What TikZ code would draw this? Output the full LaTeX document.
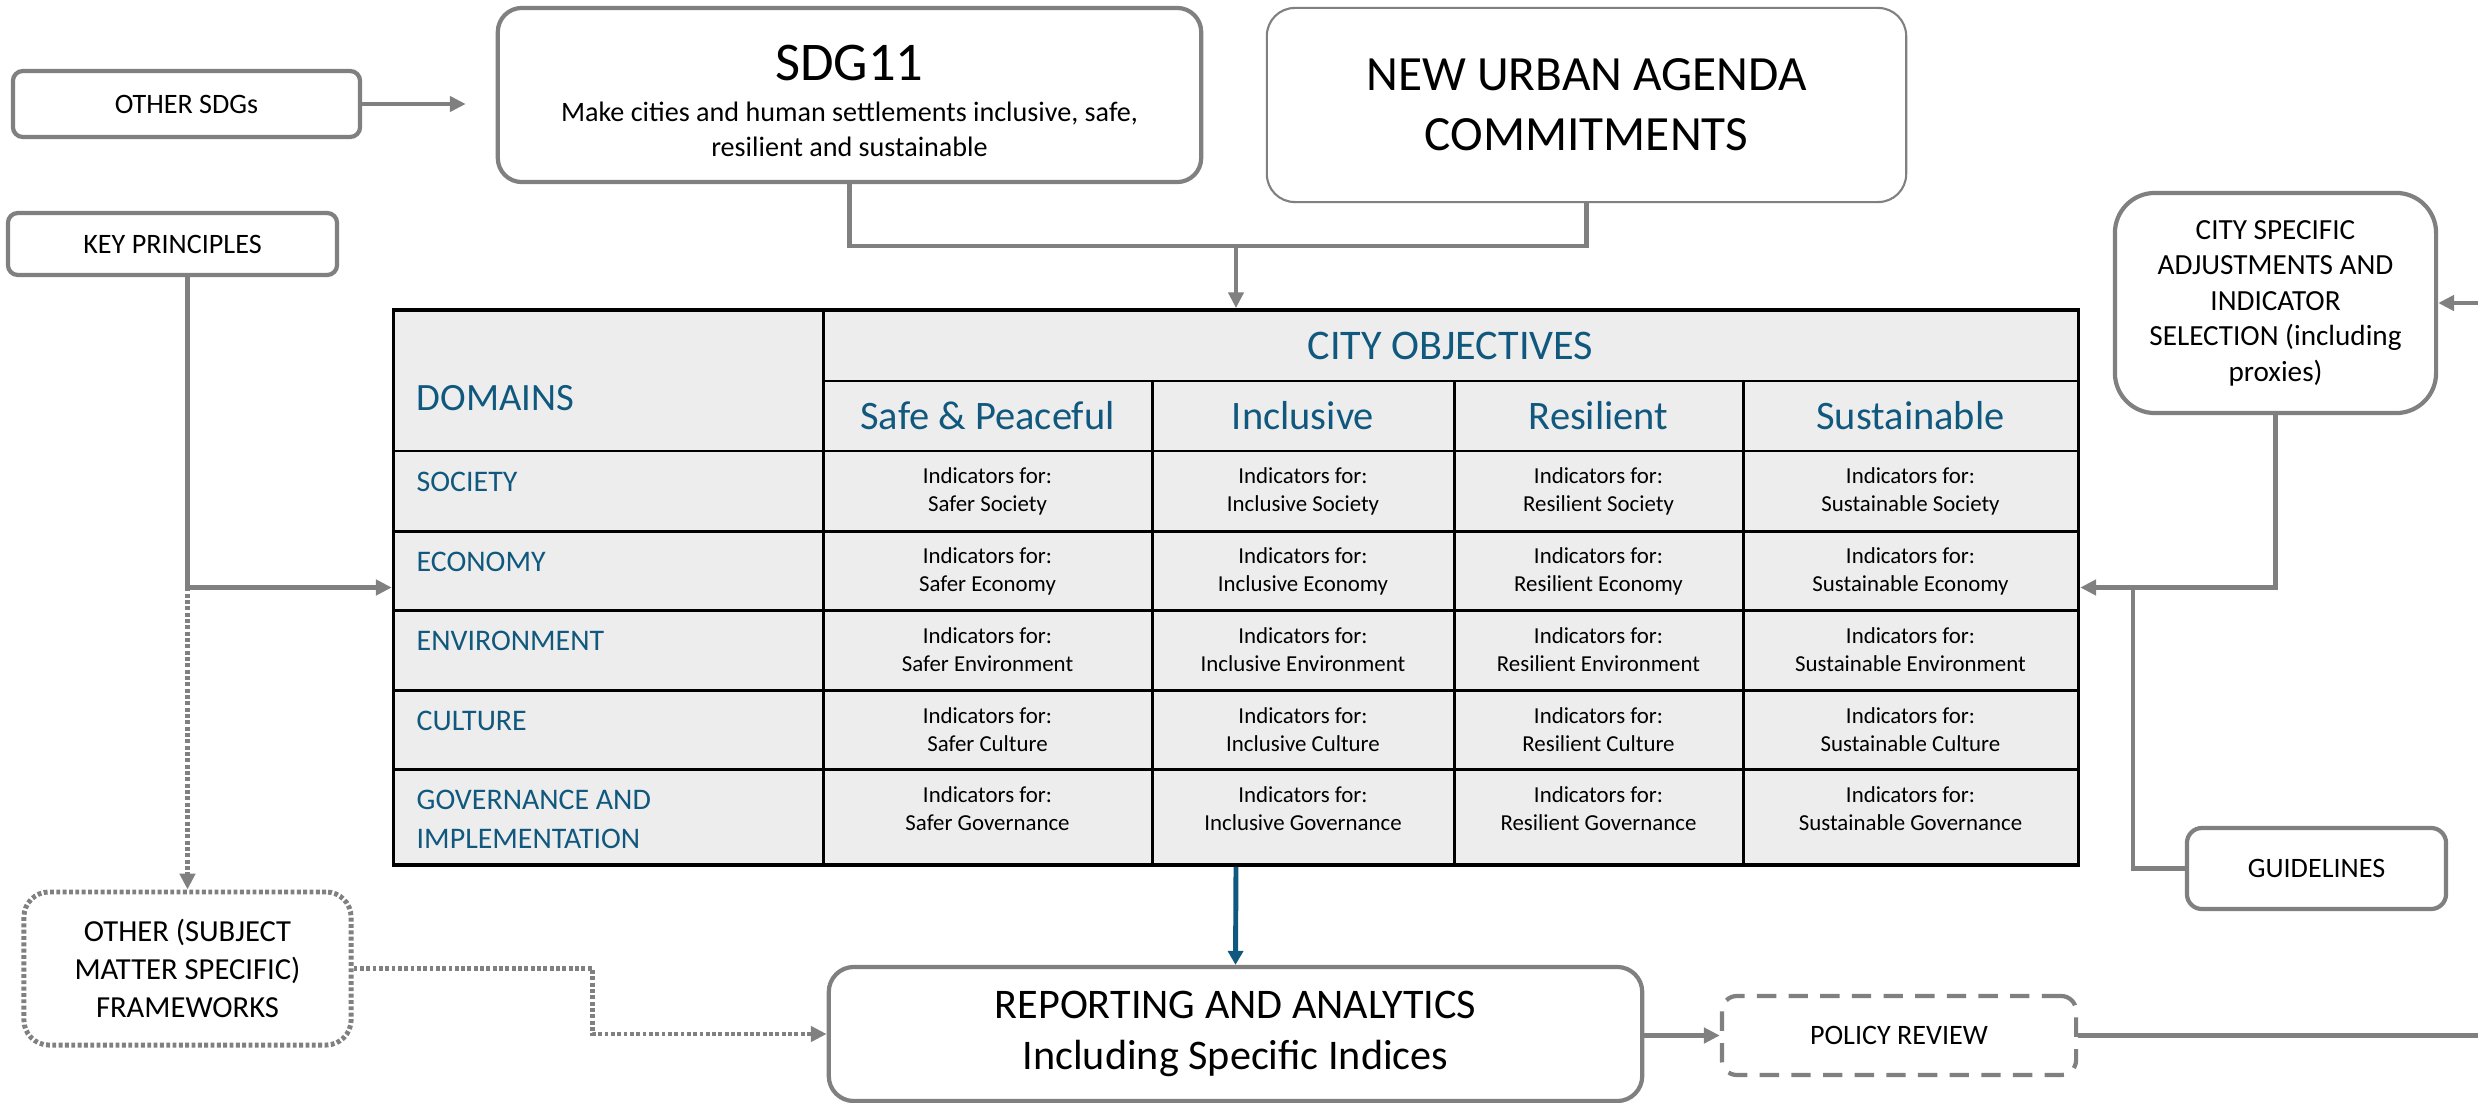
\documentclass[tikz,border=0pt]{standalone}
\usepackage{fontspec}
\setmainfont{Carlito}
\usepackage{tikz}
\usetikzlibrary{arrows.meta, shapes}

\definecolor{boxgray}{RGB}{128,128,128}
\definecolor{domblue}{RGB}{16,88,125}
\definecolor{cellgray}{RGB}{237,237,237}
\newcommand{\fsz}[2]{\fontsize{#1}{#2}\selectfont}

\begin{document}
\begin{tikzpicture}[x=0.01cm, y=-0.01cm]
\useasboundingbox (0,0) rectangle (2478,1103);

% boxes around the table
\begin{scope}[every node/.style={rectangle, draw=boxgray, line width=1.2pt, align=center, inner sep=0pt}]
  \node[rounded corners=0.1cm, minimum width=3.47cm, minimum height=0.66cm, font={\fsz{8}{10}}] (osdg) at (186.5,104) {OTHER SDGs};
  \node[rounded corners=0.24cm, minimum width=7.03cm, minimum height=1.74cm, font={\fsz{8}{9.7}}] (sdg) at (849.5,95)
    {{\fsz{15.5}{19}\rule{0pt}{13.4pt}SDG11}\\[2pt]Make cities and human settlements inclusive, safe,\\resilient and sustainable};
  \node[rounded corners=0.28cm, line width=0.6pt, minimum width=6.39cm, minimum height=1.94cm, font={\fsz{14}{17}}] (nua) at (1586.5,105)
    {NEW URBAN AGENDA\\COMMITMENTS};
  \node[rounded corners=0.1cm, minimum width=3.29cm, minimum height=0.62cm, font={\fsz{8}{10}}] (kp) at (172.5,244) {KEY PRINCIPLES};
  \node[rounded corners=0.4cm, minimum width=3.21cm, minimum height=2.2cm, font={\fsz{8.3}{10.1}}] (csa) at (2275.5,303)
    {CITY SPECIFIC\\ADJUSTMENTS AND\\INDICATOR\\SELECTION (including\\proxies)};
  \node[rounded corners=0.15cm, minimum width=2.59cm, minimum height=0.81cm, font={\fsz{8}{10}}] (guide) at (2316.5,868.5) {GUIDELINES};
  \node[rounded corners=0.25cm, minimum width=8.13cm, minimum height=1.34cm, font={\fsz{12}{14.5}}] (rep) at (1235.5,1034)
    {REPORTING AND ANALYTICS\\Including Specific Indices};
  \node[rounded corners=0.15cm, dash pattern=on 5.5pt off 3.5pt, minimum width=3.54cm, minimum height=0.79cm, font={\fsz{8}{10}}] (pol) at (1899,1035.5) {POLICY REVIEW};
  \node[rounded corners=0.25cm, line width=1.4pt, dash pattern=on 1.1pt off 0.7pt, minimum width=3.27cm, minimum height=1.53cm, font={\fsz{8.7}{10.8}}] (other) at (187.5,968.5)
    {OTHER (SUBJECT\\MATTER SPECIFIC)\\FRAMEWORKS};
\end{scope}

% the table
\node[draw=black, line width=1pt, fill=cellgray, minimum width=16.84cm, minimum height=5.55cm, inner sep=0pt] (tbl) at (1236,587.5) {};
\begin{scope}[black, line width=0.85pt]
  \draw (823,310) -- (823,865);
  \draw (823,381) -- (2078,381);
  \foreach \gx in {1152,1454,1743}
    \draw (\gx,381) -- (\gx,865);
  \foreach \gy in {451,531,610,690,769}
    \draw (394,\gy) -- (2078,\gy);
\end{scope}

\begin{scope}[every node/.style={text=domblue, inner sep=0pt}]
  \node[font={\fsz{12}{14}}] (cobj) at (1450.5,345.5) {CITY OBJECTIVES};
  \node[font={\fsz{11}{13}}, anchor=north west] (dom) at (416,384.5) {DOMAINS};
  \foreach \hd/\cx [count=\c] in {Safe \& Peaceful/987.5, Inclusive/1303, Resilient/1598.5, Sustainable/1910.5}
    \node[font={\fsz{11.5}{14}}] (head-\c) at (\cx,416) {\hd};
  \foreach \dm/\ry [count=\r] in {SOCIETY/451, ECONOMY/531, ENVIRONMENT/610, CULTURE/690}
    \node[font={\fsz{8.5}{11}}, anchor=north west] (dom-\r) at (416,\ry+20.5) {\dm};
  \node[font={\fsz{8.5}{11}}, anchor=north west, align=left] (dom-5) at (416,789.5) {GOVERNANCE AND\\IMPLEMENTATION};
\end{scope}

\foreach \adj/\cx [count=\c] in {Safer/987.5, Inclusive/1303, Resilient/1598.5, Sustainable/1910.5}
  \foreach \dm/\ry [count=\r] in {Society/451, Economy/531, Environment/610, Culture/690, Governance/769}
    \node[font={\fsz{6.5}{8}}, align=center, inner sep=0pt] (ind-\c-\r) at (\cx,\ry+40) {Indicators for:\\\adj\ \dm};

% connectors
\coordinate (jn) at (1236,246);
\coordinate (kj) at (187.5,587.5);
\coordinate (gj) at (2133,587.5);
\coordinate (cin) at (2478,303);
\coordinate (pout) at (2478,1035.5);

\begin{scope}[>={Triangle[length=4.5pt,width=4.3pt]},
              every edge/.style={draw=boxgray, line width=1.3pt}]
  \path[->] (osdg.east) edge[shorten >=0.3cm] (osdg.east -| sdg.west);
  \path[->] (cin) edge (csa.east);
  \path[->] (rep.east |- pol.west) edge (pol.west);
  \path (pol.east) edge (pout);
  \path[->] (jn) edge (tbl.north);
  \path[->] (kj) edge[line width=1.4pt, dash pattern=on 1.1pt off 0.7pt] (other.north);
\end{scope}

\begin{scope}[>={Triangle[length=4.5pt,width=4.3pt]}, boxgray, line width=1.3pt]
  \draw (sdg.south) |- (jn);
  \draw (nua.south) |- (jn);
  \draw[->] (kp.south -| kj) |- (tbl.west);
  \draw[->] (csa.south) |- (tbl.east);
  \draw (guide.west) -| (gj);
  \draw[->, line width=1.4pt, dash pattern=on 1.1pt off 0.7pt] (other.east) -- ++(239,0) |- (rep.west);
\end{scope}

\draw[->, >={Triangle[length=4pt,width=4.3pt]}, domblue, line width=1.4pt] (tbl.south) -- (rep.north);

\end{tikzpicture}
\end{document}
